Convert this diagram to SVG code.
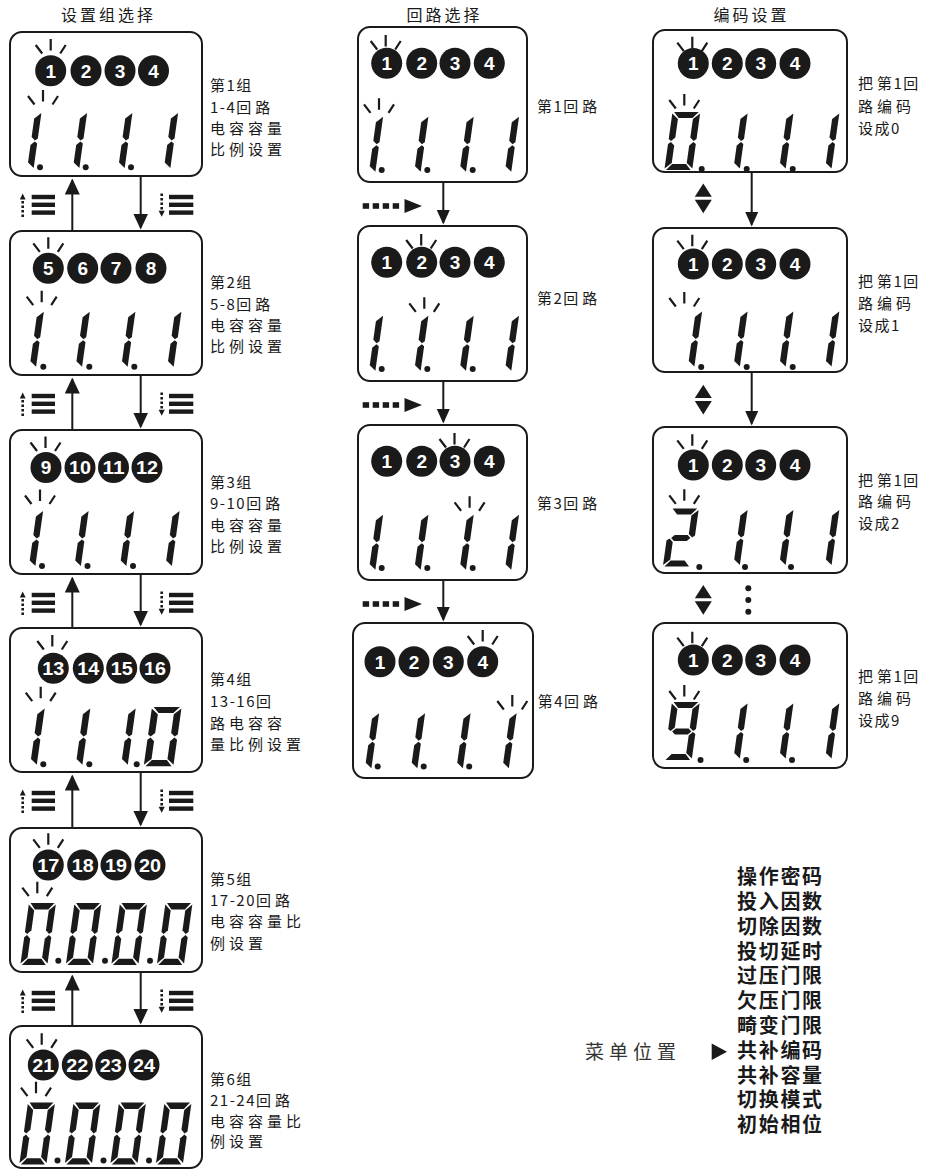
<svg xmlns="http://www.w3.org/2000/svg" width="927" height="1171" viewBox="0 0 927 1171">
<style>
.bx{fill:#fff;stroke:#1a1a1a;stroke-width:2}
.lc{fill:#1a1a1a}
.cn{fill:#fff;font-family:"Liberation Sans",Arial,sans-serif;font-weight:700;font-size:19px;text-anchor:middle}
.c2{font-size:18px}
.rays{fill:none;stroke:#1a1a1a;stroke-width:2.2}
.lb{fill:#1a1a1a;font-family:"Noto Sans CJK SC",sans-serif;font-size:15px;letter-spacing:4px}
.n{letter-spacing:1.5px}
.tt{text-anchor:middle;font-size:16px;letter-spacing:3px}
.mn{font-weight:700;font-size:20px;letter-spacing:1.7px}
.mp{font-size:19px;letter-spacing:5px;fill:#333}
.ln{stroke:#1a1a1a;stroke-width:2;fill:none}
.dl{stroke:#1a1a1a;stroke-width:2.6;stroke-dasharray:2.6 1.9;fill:none}
</style>
<defs>
<polygon id="sa" points="1.5,0 24.5,0 19.5,6 6.5,6"/>
<polygon id="sb" points="26,1.5 26,27 23.5,29 20,25.5 20,7"/>
<polygon id="sc" points="23.5,30 26,32 26,56.5 20,51 20,33.5"/>
<polygon id="sd" points="1.5,58 24.5,58 19.5,52 6.5,52"/>
<polygon id="se" points="2.5,30 6,33.5 6,51 0,56.5 0,32"/>
<polygon id="sf" points="0,1.5 6,7 6,25.5 2.5,29 0,27"/>
<polygon id="sg" points="4,29.5 7,26.5 19,26.5 22,29.5 19,32.5 7,32.5"/>
<g id="d1"><use href="#sb"/><use href="#sc"/></g>
<g id="d0"><use href="#sa"/><use href="#sb"/><use href="#sc"/><use href="#sd"/><use href="#se"/><use href="#sf"/></g>
<g id="d2"><use href="#sa"/><use href="#sb"/><use href="#sg"/><use href="#se"/><use href="#sd"/></g>
<g id="d9"><use href="#sa"/><use href="#sb"/><use href="#sc"/><use href="#sd"/><use href="#sf"/><use href="#sg"/></g>
<path id="ray" d="M0,0V11.5M-15,6L-8.5,14.5M15,6L9.5,14.5"/>
<g id="mu">
<polygon points="22.7,17.5 19.8,23.5 25.6,23.5" fill="#1a1a1a"/>
<line class="dl" x1="22.7" y1="25" x2="22.7" y2="41"/>
<rect x="31.7" y="18.8" width="23.3" height="4.4" fill="#1a1a1a"/>
<rect x="31.7" y="26.6" width="23.3" height="4.4" fill="#1a1a1a"/>
<rect x="31.7" y="34.4" width="23.3" height="4.4" fill="#1a1a1a"/>
</g>
<g id="md">
<line class="dl" x1="161.7" y1="17.5" x2="161.7" y2="34"/>
<polygon points="158.6,34.8 164.8,34.8 161.7,40.8" fill="#1a1a1a"/>
<rect x="169" y="18.8" width="24.3" height="4.4" fill="#1a1a1a"/>
<rect x="169" y="26.6" width="24.3" height="4.4" fill="#1a1a1a"/>
<rect x="169" y="34.4" width="24.3" height="4.4" fill="#1a1a1a"/>
</g>
<g id="da" fill="#1a1a1a">
<rect x="362.7" y="-2.8" width="6.4" height="5.6"/>
<rect x="372.7" y="-2.8" width="6.4" height="5.6"/>
<rect x="382.7" y="-2.8" width="6.4" height="5.6"/>
<rect x="392.7" y="-2.8" width="6.4" height="5.6"/>
<polygon points="404.5,-7 404.5,7 422,0"/>
</g>
<g id="dt" fill="#1a1a1a">
<polygon points="0,-14.7 -8.5,-1.5 8.5,-1.5"/>
<polygon points="-8.5,1.5 8.5,1.5 0,15"/>
</g>
<marker id="ah" viewBox="0 0 16 15" refX="14" refY="7.5" markerWidth="16" markerHeight="15" markerUnits="userSpaceOnUse" orient="auto"><path d="M0,0L16,7.5L0,15Z" fill="#1a1a1a"/></marker>
<marker id="ah2" viewBox="0 0 15 13.4" refX="13" refY="6.7" markerWidth="15" markerHeight="13.4" markerUnits="userSpaceOnUse" orient="auto"><path d="M0,0L15,6.7L0,13.4Z" fill="#1a1a1a"/></marker>
</defs>

<g id="titles">
<text class="lb tt" x="108.5" y="20.5">设置组选择</text>
<text class="lb tt" x="444.5" y="20.5">回路选择</text>
<text class="lb tt" x="751.5" y="20.5">编码设置</text>
</g>

<g id="connectors">
<g class="ln">
<line x1="72.3" y1="231" x2="72.3" y2="180.5" marker-end="url(#ah)"/>
<line x1="140.7" y1="176" x2="140.7" y2="227.5" marker-end="url(#ah)"/>
<line x1="72.3" y1="430" x2="72.3" y2="379.5" marker-end="url(#ah)"/>
<line x1="140.7" y1="375" x2="140.7" y2="426.5" marker-end="url(#ah)"/>
<line x1="72.3" y1="628" x2="72.3" y2="578.5" marker-end="url(#ah)"/>
<line x1="140.7" y1="574" x2="140.7" y2="624.5" marker-end="url(#ah)"/>
<line x1="72.3" y1="828" x2="72.3" y2="776.5" marker-end="url(#ah)"/>
<line x1="140.7" y1="772" x2="140.7" y2="824.5" marker-end="url(#ah)"/>
<line x1="72.3" y1="1026" x2="72.3" y2="976.5" marker-end="url(#ah)"/>
<line x1="140.7" y1="972" x2="140.7" y2="1022.5" marker-end="url(#ah)"/>
<line x1="443.3" y1="182" x2="443.3" y2="222.5" marker-end="url(#ah2)"/>
<line x1="443.3" y1="381" x2="443.3" y2="421.5" marker-end="url(#ah2)"/>
<line x1="443.3" y1="580" x2="443.3" y2="619.5" marker-end="url(#ah2)"/>
<line x1="751.7" y1="172" x2="751.7" y2="224.5" marker-end="url(#ah2)"/>
<line x1="751.7" y1="372" x2="751.7" y2="423.5" marker-end="url(#ah2)"/>
</g>
<use href="#mu" transform="translate(0,176)"/>
<use href="#md" transform="translate(0,176)"/>
<use href="#mu" transform="translate(0,375)"/>
<use href="#md" transform="translate(0,375)"/>
<use href="#mu" transform="translate(0,574)"/>
<use href="#md" transform="translate(0,574)"/>
<use href="#mu" transform="translate(0,772)"/>
<use href="#md" transform="translate(0,772)"/>
<use href="#mu" transform="translate(0,972)"/>
<use href="#md" transform="translate(0,972)"/>
<use href="#da" transform="translate(0,206)"/>
<use href="#da" transform="translate(0,405)"/>
<use href="#da" transform="translate(0,604)"/>
<use href="#dt" transform="translate(703.3,198.3)"/>
<use href="#dt" transform="translate(703.3,399.5)"/>
<use href="#dt" transform="translate(703.3,599.7)"/>
<g class="lc">
<circle cx="748.3" cy="588.3" r="3"/>
<circle cx="748.3" cy="600" r="3"/>
<circle cx="748.3" cy="611.7" r="3"/>
</g>
</g>

<g id="left-1">
<rect class="bx" x="10" y="32" width="192" height="144" rx="12"/>
<use href="#ray" class="rays" x="50.7" y="39"/>
<use href="#ray" class="rays" x="43" y="90"/>
<g class="lc">
<circle cx="50.7" cy="70.7" r="15.5"/><circle cx="86" cy="70.7" r="15.5"/><circle cx="120" cy="70.7" r="15.5"/><circle cx="153.5" cy="70.7" r="15.5"/>
<use href="#d1" transform="translate(13.8,111.5) skewX(-8) scale(1.07,1)"/>
<use href="#d1" transform="translate(59.5,111.5) skewX(-8) scale(1.07,1)"/>
<use href="#d1" transform="translate(104.8,111.5) skewX(-8) scale(1.07,1)"/>
<use href="#d1" transform="translate(150.5,111.5) skewX(-8) scale(1.07,1)"/>
<circle cx="40" cy="167.3" r="3"/><circle cx="85.7" cy="167.3" r="3"/><circle cx="131" cy="167.3" r="3"/>
</g>
<text class="cn" x="50.7" y="77.5">1</text><text class="cn" x="86" y="77.5">2</text><text class="cn" x="120" y="77.5">3</text><text class="cn" x="153.5" y="77.5">4</text>
<text class="lb" x="210" y="90.5"><tspan class="n">第1</tspan>组</text>
<text class="lb" x="210" y="112.5"><tspan class="n">1-4</tspan>回路</text>
<text class="lb" x="210" y="133.5">电容容量</text>
<text class="lb" x="210" y="154.5">比例设置</text>
</g>

<g id="left-2">
<rect class="bx" x="10" y="231" width="192" height="144" rx="12"/>
<use href="#ray" class="rays" x="48.3" y="237.3"/>
<use href="#ray" class="rays" x="41.7" y="290.7"/>
<g class="lc">
<circle cx="48.3" cy="268.3" r="15.5"/><circle cx="82.7" cy="268.3" r="15.5"/><circle cx="116" cy="268.3" r="15.5"/><circle cx="151" cy="268.3" r="15.5"/>
<use href="#d1" transform="translate(16.2,310.2) skewX(-8) scale(1.07,1)"/>
<use href="#d1" transform="translate(62.2,310.2) skewX(-8) scale(1.07,1)"/>
<use href="#d1" transform="translate(107.8,310.2) skewX(-8) scale(1.07,1)"/>
<use href="#d1" transform="translate(153.8,310.2) skewX(-8) scale(1.07,1)"/>
<circle cx="43.3" cy="366.7" r="3"/><circle cx="89.3" cy="366.7" r="3"/><circle cx="134.3" cy="366.7" r="3"/>
</g>
<text class="cn" x="48.3" y="275.1">5</text><text class="cn" x="82.7" y="275.1">6</text><text class="cn" x="116" y="275.1">7</text><text class="cn" x="151" y="275.1">8</text>
<text class="lb" x="210" y="288"><tspan class="n">第2</tspan>组</text>
<text class="lb" x="210" y="310"><tspan class="n">5-8</tspan>回路</text>
<text class="lb" x="210" y="330.5">电容容量</text>
<text class="lb" x="210" y="351.5">比例设置</text>
</g>

<g id="left-3">
<rect class="bx" x="10" y="430" width="192" height="144" rx="12"/>
<use href="#ray" class="rays" x="45.5" y="436.5"/>
<use href="#ray" class="rays" x="40" y="489.5"/>
<g class="lc">
<circle cx="46" cy="467.5" r="15.5"/><circle cx="80" cy="467.5" r="15.5"/><circle cx="113.5" cy="467.5" r="15.5"/><circle cx="147" cy="467.5" r="15.5"/>
<use href="#d1" transform="translate(15.5,509.5) skewX(-8) scale(1.07,1)"/>
<use href="#d1" transform="translate(61,509.5) skewX(-8) scale(1.07,1)"/>
<use href="#d1" transform="translate(106.5,509.5) skewX(-8) scale(1.07,1)"/>
<use href="#d1" transform="translate(152,509.5) skewX(-8) scale(1.07,1)"/>
<circle cx="42" cy="566" r="3"/><circle cx="87.5" cy="566" r="3"/><circle cx="133" cy="566" r="3"/>
</g>
<text class="cn" x="46" y="474.3">9</text>
<text class="cn c2" x="80" y="474" textLength="22" lengthAdjust="spacingAndGlyphs">10</text>
<text class="cn c2" x="113.5" y="474" textLength="22" lengthAdjust="spacingAndGlyphs">11</text>
<text class="cn c2" x="147" y="474" textLength="22" lengthAdjust="spacingAndGlyphs">12</text>
<text class="lb" x="210" y="487.5"><tspan class="n">第3</tspan>组</text>
<text class="lb" x="210" y="508.5"><tspan class="n">9-10</tspan>回路</text>
<text class="lb" x="210" y="530.5">电容容量</text>
<text class="lb" x="210" y="551.5">比例设置</text>
</g>

<g id="left-4">
<rect class="bx" x="10" y="628" width="192" height="144" rx="12"/>
<use href="#ray" class="rays" x="52.3" y="635"/>
<use href="#ray" class="rays" x="40.7" y="686.7"/>
<g class="lc">
<circle cx="53.3" cy="668.3" r="15.5"/><circle cx="88.3" cy="668.3" r="15.5"/><circle cx="121.7" cy="668.3" r="15.5"/><circle cx="155" cy="668.3" r="15.5"/>
<use href="#d1" transform="translate(16.3,707) skewX(-8) scale(1.1,1.02)"/>
<use href="#d1" transform="translate(61.9,707) skewX(-8) scale(1.1,1.02)"/>
<use href="#d1" transform="translate(107.3,707) skewX(-8) scale(1.1,1.02)"/>
<use href="#d0" transform="translate(152,707) skewX(-8) scale(1.14,1.02)"/>
<circle cx="43.3" cy="764.3" r="3"/><circle cx="89.3" cy="764.3" r="3"/><circle cx="136.7" cy="764.3" r="3"/>
</g>
<text class="cn c2" x="53.3" y="674.8" textLength="22" lengthAdjust="spacingAndGlyphs">13</text>
<text class="cn c2" x="88.3" y="674.8" textLength="22" lengthAdjust="spacingAndGlyphs">14</text>
<text class="cn c2" x="121.7" y="674.8" textLength="22" lengthAdjust="spacingAndGlyphs">15</text>
<text class="cn c2" x="155" y="674.8" textLength="22" lengthAdjust="spacingAndGlyphs">16</text>
<text class="lb" x="210" y="684.5"><tspan class="n">第4</tspan>组</text>
<text class="lb" x="210" y="707"><tspan class="n">13-16</tspan>回</text>
<text class="lb" x="210" y="729">路电容容</text>
<text class="lb" x="210" y="749.5">量比例设置</text>
</g>

<g id="left-5">
<rect class="bx" x="10" y="828" width="192" height="144" rx="12"/>
<use href="#ray" class="rays" x="48.3" y="833.3"/>
<use href="#ray" class="rays" x="37.3" y="881.7"/>
<g class="lc">
<circle cx="48.3" cy="865" r="15.5"/><circle cx="82.7" cy="865" r="15.5"/><circle cx="116" cy="865" r="15.5"/><circle cx="150" cy="865" r="15.5"/>
<use href="#d0" transform="translate(29,903) skewX(-8) scale(1.04,1.07)"/>
<use href="#d0" transform="translate(74.5,903) skewX(-8) scale(1.04,1.07)"/>
<use href="#d0" transform="translate(120,903) skewX(-8) scale(1.04,1.07)"/>
<use href="#d0" transform="translate(165.5,903) skewX(-8) scale(1.04,1.07)"/>
<circle cx="58.3" cy="960.7" r="3"/><circle cx="105" cy="960.7" r="3"/><circle cx="150" cy="960.7" r="3"/>
</g>
<text class="cn c2" x="48.3" y="871.5" textLength="22" lengthAdjust="spacingAndGlyphs">17</text>
<text class="cn c2" x="82.7" y="871.5" textLength="22" lengthAdjust="spacingAndGlyphs">18</text>
<text class="cn c2" x="116" y="871.5" textLength="22" lengthAdjust="spacingAndGlyphs">19</text>
<text class="cn c2" x="150" y="871.5" textLength="22" lengthAdjust="spacingAndGlyphs">20</text>
<text class="lb" x="210" y="884.5"><tspan class="n">第5</tspan>组</text>
<text class="lb" x="210" y="905.5"><tspan class="n">17-20</tspan>回路</text>
<text class="lb" x="210" y="927">电容容量比</text>
<text class="lb" x="210" y="948.5">例设置</text>
</g>

<g id="left-6">
<rect class="bx" x="10" y="1026" width="192" height="142" rx="12"/>
<use href="#ray" class="rays" x="41.7" y="1033.3"/>
<use href="#ray" class="rays" x="36" y="1081.7"/>
<g class="lc">
<circle cx="43.3" cy="1065" r="15.5"/><circle cx="77.3" cy="1065" r="15.5"/><circle cx="110.7" cy="1065" r="15.5"/><circle cx="144" cy="1065" r="15.5"/>
<use href="#d0" transform="translate(28,1102.5) skewX(-8) scale(1.04,1.07)"/>
<use href="#d0" transform="translate(73.5,1102.5) skewX(-8) scale(1.04,1.07)"/>
<use href="#d0" transform="translate(119,1102.5) skewX(-8) scale(1.04,1.07)"/>
<use href="#d0" transform="translate(164.5,1102.5) skewX(-8) scale(1.04,1.07)"/>
<circle cx="57.5" cy="1160.5" r="3"/><circle cx="103.5" cy="1160.5" r="3"/><circle cx="149" cy="1160.5" r="3"/>
</g>
<text class="cn c2" x="43.3" y="1071.5" textLength="22" lengthAdjust="spacingAndGlyphs">21</text>
<text class="cn c2" x="77.3" y="1071.5" textLength="22" lengthAdjust="spacingAndGlyphs">22</text>
<text class="cn c2" x="110.7" y="1071.5" textLength="22" lengthAdjust="spacingAndGlyphs">23</text>
<text class="cn c2" x="144" y="1071.5" textLength="22" lengthAdjust="spacingAndGlyphs">24</text>
<text class="lb" x="210" y="1085"><tspan class="n">第6</tspan>组</text>
<text class="lb" x="210" y="1105.5"><tspan class="n">21-24</tspan>回路</text>
<text class="lb" x="210" y="1127">电容容量比</text>
<text class="lb" x="210" y="1147">例设置</text>
</g>

<g id="loop-1">
<rect class="bx" x="358" y="27" width="169" height="155" rx="12"/>
<use href="#ray" class="rays" x="385.7" y="35"/>
<use href="#ray" class="rays" x="379" y="98.3"/>
<g class="lc">
<circle cx="386.7" cy="63.3" r="15.5"/><circle cx="421.7" cy="63.3" r="15.5"/><circle cx="455" cy="63.3" r="15.5"/><circle cx="489.3" cy="63.3" r="15.5"/>
<use href="#d1" transform="translate(355.5,115.2) skewX(-8) scale(1.07,1)"/>
<use href="#d1" transform="translate(400.8,115.2) skewX(-8) scale(1.07,1)"/>
<use href="#d1" transform="translate(446.1,115.2) skewX(-8) scale(1.07,1)"/>
<use href="#d1" transform="translate(491.4,115.2) skewX(-8) scale(1.07,1)"/>
<circle cx="381.7" cy="170" r="3"/><circle cx="427.3" cy="170" r="3"/><circle cx="472.7" cy="170" r="3"/>
</g>
<text class="cn" x="386.7" y="70.1">1</text><text class="cn" x="421.7" y="70.1">2</text><text class="cn" x="455" y="70.1">3</text><text class="cn" x="489.3" y="70.1">4</text>
<text class="lb" x="537" y="111.5"><tspan class="n">第1</tspan>回路</text>
</g>

<g id="loop-2">
<rect class="bx" x="358" y="226" width="169" height="155" rx="12"/>
<use href="#ray" class="rays" x="421.2" y="234"/>
<use href="#ray" class="rays" x="424.3" y="297.3"/>
<g class="lc">
<circle cx="386.7" cy="262.3" r="15.5"/><circle cx="421.7" cy="262.3" r="15.5"/><circle cx="455" cy="262.3" r="15.5"/><circle cx="489.3" cy="262.3" r="15.5"/>
<use href="#d1" transform="translate(355.5,314.2) skewX(-8) scale(1.07,1)"/>
<use href="#d1" transform="translate(400.8,314.2) skewX(-8) scale(1.07,1)"/>
<use href="#d1" transform="translate(446.1,314.2) skewX(-8) scale(1.07,1)"/>
<use href="#d1" transform="translate(491.4,314.2) skewX(-8) scale(1.07,1)"/>
<circle cx="381.7" cy="369" r="3"/><circle cx="427.3" cy="369" r="3"/><circle cx="472.7" cy="369" r="3"/>
</g>
<text class="cn" x="386.7" y="269.1">1</text><text class="cn" x="421.7" y="269.1">2</text><text class="cn" x="455" y="269.1">3</text><text class="cn" x="489.3" y="269.1">4</text>
<text class="lb" x="537" y="304"><tspan class="n">第2</tspan>回路</text>
</g>

<g id="loop-3">
<rect class="bx" x="358" y="425" width="169" height="155" rx="12"/>
<use href="#ray" class="rays" x="454.5" y="433"/>
<use href="#ray" class="rays" x="469.6" y="496.3"/>
<g class="lc">
<circle cx="386.7" cy="461.3" r="15.5"/><circle cx="421.7" cy="461.3" r="15.5"/><circle cx="455" cy="461.3" r="15.5"/><circle cx="489.3" cy="461.3" r="15.5"/>
<use href="#d1" transform="translate(355.5,513.2) skewX(-8) scale(1.07,1)"/>
<use href="#d1" transform="translate(400.8,513.2) skewX(-8) scale(1.07,1)"/>
<use href="#d1" transform="translate(446.1,513.2) skewX(-8) scale(1.07,1)"/>
<use href="#d1" transform="translate(491.4,513.2) skewX(-8) scale(1.07,1)"/>
<circle cx="381.7" cy="568" r="3"/><circle cx="427.3" cy="568" r="3"/><circle cx="472.7" cy="568" r="3"/>
</g>
<text class="cn" x="386.7" y="468.1">1</text><text class="cn" x="421.7" y="468.1">2</text><text class="cn" x="455" y="468.1">3</text><text class="cn" x="489.3" y="468.1">4</text>
<text class="lb" x="537" y="508.5"><tspan class="n">第3</tspan>回路</text>
</g>

<g id="loop-4">
<rect class="bx" x="353" y="623" width="180" height="155" rx="12"/>
<use href="#ray" class="rays" x="482.7" y="630"/>
<use href="#ray" class="rays" x="512.3" y="695"/>
<g class="lc">
<circle cx="380" cy="661.7" r="15.5"/><circle cx="414" cy="661.7" r="15.5"/><circle cx="448.3" cy="661.7" r="15.5"/><circle cx="482.7" cy="661.7" r="15.5"/>
<use href="#d1" transform="translate(351.5,711.8) skewX(-8) scale(1.07,1)"/>
<use href="#d1" transform="translate(397.5,711.8) skewX(-8) scale(1.07,1)"/>
<use href="#d1" transform="translate(443,711.8) skewX(-8) scale(1.07,1)"/>
<use href="#d1" transform="translate(489,711.8) skewX(-8) scale(1.07,1)"/>
<circle cx="377.7" cy="766.6" r="3"/><circle cx="423.7" cy="766.6" r="3"/><circle cx="469.2" cy="766.6" r="3"/>
</g>
<text class="cn" x="380" y="668.5">1</text><text class="cn" x="414" y="668.5">2</text><text class="cn" x="448.3" y="668.5">3</text><text class="cn" x="482.7" y="668.5">4</text>
<text class="lb" x="537.7" y="707"><tspan class="n">第4</tspan>回路</text>
</g>

<g id="code-0">
<rect class="bx" x="653" y="30" width="194" height="142" rx="12"/>
<use href="#ray" class="rays" x="692.3" y="36.7"/>
<use href="#ray" class="rays" x="684.3" y="94"/>
<g class="lc">
<circle cx="693.3" cy="63.5" r="15.5"/><circle cx="727.3" cy="63.5" r="15.5"/><circle cx="760.7" cy="63.5" r="15.5"/><circle cx="795" cy="63.5" r="15.5"/>
<use href="#d0" transform="translate(672.5,112) skewX(-8) scale(1.07,1)"/>
<use href="#d1" transform="translate(720,112) skewX(-8) scale(1.07,1)"/>
<use href="#d1" transform="translate(765.8,112) skewX(-8) scale(1.07,1)"/>
<use href="#d1" transform="translate(811.7,112) skewX(-8) scale(1.07,1)"/>
<circle cx="701.7" cy="169" r="3"/><circle cx="746.7" cy="169" r="3"/><circle cx="792.7" cy="169" r="3"/>
</g>
<text class="cn" x="693.3" y="70.3">1</text><text class="cn" x="727.3" y="70.3">2</text><text class="cn" x="760.7" y="70.3">3</text><text class="cn" x="795" y="70.3">4</text>
<text class="lb" x="858" y="88.5">把<tspan class="n">第1</tspan>回</text>
<text class="lb" x="858" y="111.5">路编码</text>
<text class="lb" x="858" y="133.5"><tspan class="n">设成0</tspan></text>
</g>

<g id="code-1">
<rect class="bx" x="653" y="228" width="194" height="144" rx="12"/>
<use href="#ray" class="rays" x="692.3" y="234.7"/>
<use href="#ray" class="rays" x="684.3" y="292"/>
<g class="lc">
<circle cx="693.3" cy="264" r="15.5"/><circle cx="727.3" cy="264" r="15.5"/><circle cx="760.7" cy="264" r="15.5"/><circle cx="795" cy="264" r="15.5"/>
<use href="#d1" transform="translate(674.5,310) skewX(-8) scale(1.07,1)"/>
<use href="#d1" transform="translate(720,310) skewX(-8) scale(1.07,1)"/>
<use href="#d1" transform="translate(765.8,310) skewX(-8) scale(1.07,1)"/>
<use href="#d1" transform="translate(811.7,310) skewX(-8) scale(1.07,1)"/>
<circle cx="701.2" cy="367" r="3"/><circle cx="746.7" cy="367" r="3"/><circle cx="792.7" cy="367" r="3"/>
</g>
<text class="cn" x="693.3" y="270.8">1</text><text class="cn" x="727.3" y="270.8">2</text><text class="cn" x="760.7" y="270.8">3</text><text class="cn" x="795" y="270.8">4</text>
<text class="lb" x="858" y="286.5">把<tspan class="n">第1</tspan>回</text>
<text class="lb" x="858" y="308.5">路编码</text>
<text class="lb" x="858" y="330.5"><tspan class="n">设成1</tspan></text>
</g>

<g id="code-2">
<rect class="bx" x="653" y="427" width="194" height="146" rx="12"/>
<use href="#ray" class="rays" x="692.3" y="434.3"/>
<use href="#ray" class="rays" x="684.3" y="489.3"/>
<g class="lc">
<circle cx="693.3" cy="465" r="15.5"/><circle cx="727.3" cy="465" r="15.5"/><circle cx="760.7" cy="465" r="15.5"/><circle cx="795" cy="465" r="15.5"/>
<use href="#d2" transform="translate(671,508.5) skewX(-8) scale(1.07,1)"/>
<use href="#d1" transform="translate(720,508.5) skewX(-8) scale(1.07,1)"/>
<use href="#d1" transform="translate(765.8,508.5) skewX(-8) scale(1.07,1)"/>
<use href="#d1" transform="translate(811.7,508.5) skewX(-8) scale(1.07,1)"/>
<circle cx="699.3" cy="567" r="3"/><circle cx="745" cy="567" r="3"/><circle cx="791" cy="567" r="3"/>
</g>
<text class="cn" x="693.3" y="471.8">1</text><text class="cn" x="727.3" y="471.8">2</text><text class="cn" x="760.7" y="471.8">3</text><text class="cn" x="795" y="471.8">4</text>
<text class="lb" x="858" y="485.5">把<tspan class="n">第1</tspan>回</text>
<text class="lb" x="858" y="507">路编码</text>
<text class="lb" x="858" y="528.5"><tspan class="n">设成2</tspan></text>
</g>

<g id="code-9">
<rect class="bx" x="653" y="623" width="194" height="145" rx="12"/>
<use href="#ray" class="rays" x="692.3" y="631.7"/>
<use href="#ray" class="rays" x="684.3" y="685"/>
<g class="lc">
<circle cx="693.3" cy="660" r="15.5"/><circle cx="727.3" cy="660" r="15.5"/><circle cx="760.7" cy="660" r="15.5"/><circle cx="795" cy="660" r="15.5"/>
<use href="#d9" transform="translate(672,702) skewX(-8) scale(1.07,1)"/>
<use href="#d1" transform="translate(720,702) skewX(-8) scale(1.07,1)"/>
<use href="#d1" transform="translate(765.8,702) skewX(-8) scale(1.07,1)"/>
<use href="#d1" transform="translate(811.7,702) skewX(-8) scale(1.07,1)"/>
<circle cx="700.5" cy="760" r="3"/><circle cx="746.2" cy="760" r="3"/><circle cx="792" cy="760" r="3"/>
</g>
<text class="cn" x="693.3" y="666.8">1</text><text class="cn" x="727.3" y="666.8">2</text><text class="cn" x="760.7" y="666.8">3</text><text class="cn" x="795" y="666.8">4</text>
<text class="lb" x="858" y="682">把<tspan class="n">第1</tspan>回</text>
<text class="lb" x="858" y="704">路编码</text>
<text class="lb" x="858" y="725.5"><tspan class="n">设成9</tspan></text>
</g>

<g id="menu">
<text class="lb mp" x="585" y="1058.5">菜单位置</text>
<polygon class="lc" points="711.7,1043.5 711.7,1060 727,1051.8"/>
<text class="lb mn" x="737" y="884.3">操作密码</text>
<text class="lb mn" x="737" y="909.1">投入因数</text>
<text class="lb mn" x="737" y="933.8">切除因数</text>
<text class="lb mn" x="737" y="958.6">投切延时</text>
<text class="lb mn" x="737" y="983.4">过压门限</text>
<text class="lb mn" x="737" y="1008.1">欠压门限</text>
<text class="lb mn" x="737" y="1032.9">畸变门限</text>
<text class="lb mn" x="737" y="1057.7">共补编码</text>
<text class="lb mn" x="737" y="1082.5">共补容量</text>
<text class="lb mn" x="737" y="1107.2">切换模式</text>
<text class="lb mn" x="737" y="1132">初始相位</text>
</g>
</svg>
